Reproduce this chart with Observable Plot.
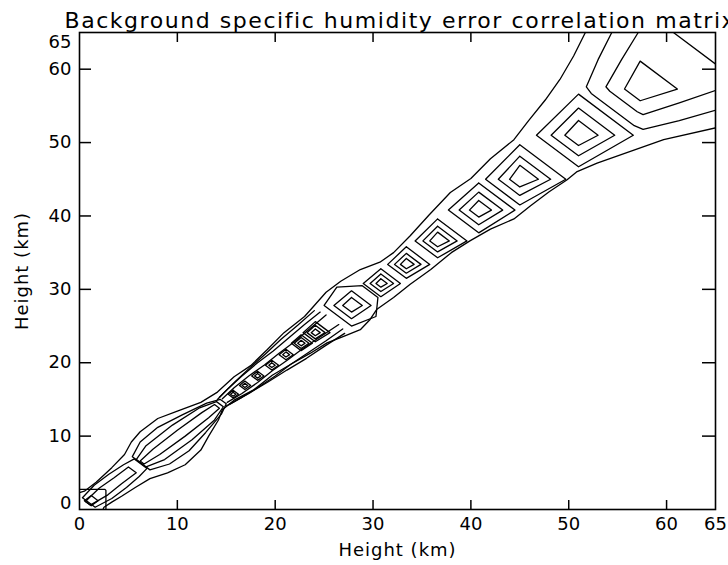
<!DOCTYPE html>
<html>
<head>
<meta charset="utf-8">
<script src="https://cdn.jsdelivr.net/npm/d3@7"></script>
<script src="https://cdn.jsdelivr.net/npm/@observablehq/plot@0.6"></script>
<style>
  body { margin: 0; background: #fff; }
  #chart svg { display: block; }
</style>
</head>
<body>
<div id="chart"></div>
<script>
// ---------- texts and ticks ----------
const titleText = "Background specific humidity error correlation matrix";
const axisTitle = "Height (km)";
const tickValues = [0, 10, 20, 30, 40, 50, 60, 65];
const innerTicks = [10, 20, 30, 40, 50, 60];

// ---------- closed contour rings around the diagonal peaks (km) ----------
// each ring: extent up (along the grid line through the peak) and down
const peakCenters = [51.0, 45.0, 40.8, 36.6, 33.4, 30.8, 27.8, 24.1, 22.65, 21.1, 19.65, 18.2, 16.9, 15.7];
const outerUp     = [5.6, 4.7, 3.7, 3.0, 2.4, 2.0, null, 1.5, 1.15, null, null, null, null, null];
const outerDown   = [4.3, 3.5, 3.1, 2.3, 1.9, 1.8, null, 1.25, 1.0, null, null, null, null, null];
const middleUp    = [3.7, 3.15, 2.45, 2.0, 1.5, 1.3, 2.0, 1.0, 0.8, 0.75, 0.7, 0.65, 0.6, 0.55];
const middleDown  = [2.8, 2.2, 2.0, 1.5, 1.2, 1.1, 1.8, 0.85, 0.7, 0.7, 0.65, 0.6, 0.55, 0.5];
const innerUp     = [2.0, 1.9, 1.3, 1.2, 0.8, 0.65, 1.1, 0.5, 0.4, 0.38, 0.35, 0.32, 0.3, 0.28];
const innerDown   = [1.4, 1.05, 0.95, 0.8, 0.6, 0.5, 0.9, 0.42, 0.35, 0.33, 0.3, 0.3, 0.28, 0.26];

// ---------- open / irregular contour lines, [x, y] in km ----------
const upperEnvelope = [[51.7,65],[50.5,61.8],[49.1,58.6],[47.6,55.8],[45.9,53.0],[44.4,50.4],[42.0,47.8],[40.0,45.1],[37.9,43.2],[35.7,40.1],[33.8,37.3],[32.1,35.0],[30.7,33.7],[28.7,32.7],[26.7,31.1],[25.2,29.6],[24.0,27.8],[23.0,26.3],[20.9,24.1],[19.2,21.8],[17.5,19.6],[15.8,18.1],[14.1,16.0],[12.4,14.6],[10.0,13.4],[8.0,12.4],[6.2,10.6],[5.3,9.2],[4.6,7.5],[3.3,5.7],[1.7,3.7],[0.5,2.5],[0,2.3]];
const lowerEnvelope = [[65,52.0],[59.7,50.4],[56.3,48.8],[52.9,47.2],[50.8,46.0],[49.8,44.9],[48.0,43.3],[46.1,41.4],[44.4,39.6],[42.0,38.2],[39.9,36.6],[38.0,35.0],[35.9,32.7],[33.8,30.7],[32.1,28.9],[30.4,27.3],[29.7,25.9],[28.7,24.5],[27.0,23.6],[25.3,22.7],[23.6,21.3],[21.6,19.8],[19.7,18.3],[17.8,16.3],[15.8,14.9],[14.6,13.6],[14.2,12.2],[13.2,10.0],[12.4,8.1],[10.8,6.1],[9.0,5.0],[7.2,4.2],[5.7,3.0],[4.3,1.8],[3.3,1.0],[2.5,0.3],[2.4,0]];
const topSecond = [[54.4,65],[53.0,61.3],[51.8,57.6],[52.3,56.7],[56.7,52.3],[57.6,51.8],[61.3,53.0],[65,54.4]];
const topThird = [[57.1,65],[55.4,61.3],[53.8,57.6],[54.2,57.0],[57.0,54.2],[57.6,53.8],[61.3,55.4],[65,57.1]];
const topInner = [[57.3,61.1],[61.1,57.3],[57.3,55.7],[55.7,57.3],[57.3,61.1]];
const cornerLine = [[60.7,65],[65,60.7]];
const hexagon28 = [[25.0,27.8],[26.3,30.3],[28.9,30.5],[30.5,28.9],[30.3,26.3],[27.8,25.0],[25.0,27.8]];
const upperBandA = [[24.6,26.9],[23.0,25.2],[21.4,23.4],[19.8,21.6],[18.2,20.0],[16.6,18.2],[15.2,16.5],[14.3,15.3]];
const upperBandB = [[25.2,26.5],[23.6,24.7],[22.0,22.9],[20.4,21.3],[18.9,19.7],[17.3,18.2],[15.8,16.6],[14.6,15.1]];
const upperBandC = [[24.0,27.1],[22.3,25.1],[20.6,23.2],[19.0,21.2],[17.4,19.3],[15.9,17.4],[14.7,15.8],[14.1,15.0]];
const lowerBandA = [[26.9,24.6],[25.2,23.0],[23.4,21.4],[21.6,19.8],[20.0,18.2],[18.2,16.6],[16.5,15.2],[15.3,14.3]];
const lowerBandB = [[26.5,25.2],[24.7,23.6],[22.9,22.0],[21.3,20.4],[19.7,18.9],[18.2,17.3],[16.6,15.8],[15.1,14.6]];
const lowerBandC = [[27.1,24.0],[25.1,22.3],[23.2,20.6],[21.2,19.0],[19.3,17.4],[17.4,15.9],[15.8,14.7],[15.0,14.1]];
const tropoInner = [[6.2,6.6],[7.5,8.2],[10.0,10.8],[12.5,13.2],[13.8,14.3],[14.3,13.8],[13.2,12.5],[10.8,10.0],[8.2,7.5],[6.6,6.2],[6.2,6.6]];
const tropoMiddle = [[5.8,6.8],[6.8,8.7],[9.5,11.5],[12.2,13.8],[14.0,14.7],[14.7,14.0],[13.8,12.2],[11.5,9.5],[8.7,6.8],[6.8,5.8],[5.8,6.8]];
const tropoOuter = [[5.4,7.2],[6.2,9.2],[8.0,11.2],[10.5,12.9],[13.0,14.5],[14.4,15.0],[15.0,14.4],[14.5,13.0],[12.9,10.5],[11.2,8.0],[9.2,6.2],[7.2,5.4],[5.4,7.2]];
const knotOuter = [[0.3,1.6],[1.5,3.3],[3.0,4.8],[4.5,6.1],[5.6,6.9],[6.9,5.6],[6.1,4.5],[4.8,3.0],[3.3,1.5],[1.6,0.3],[0.3,1.6]];
const knotInner = [[0.6,1.1],[2.0,2.9],[3.5,4.3],[5.0,5.8],[5.8,5.0],[4.3,3.5],[2.9,2.0],[1.1,0.6],[0.6,1.1]];
const knotSmall = [[1.2,1.9],[1.9,1.2],[1.2,0.5],[0.5,1.2],[1.2,1.9]];
const cornerBox = [[0,2.75],[2.6,2.75],[2.7,2.6],[2.7,0]];

// ---------- assemble a tidy table for Plot ----------
const paths = [upperEnvelope, lowerEnvelope, topSecond, topThird, topInner, cornerLine, hexagon28,
  upperBandA, upperBandB, upperBandC, lowerBandA, lowerBandB, lowerBandC,
  tropoInner, tropoMiddle, tropoOuter, knotOuter, knotInner, knotSmall, cornerBox];
const ringSets = [[outerUp, outerDown], [middleUp, middleDown], [innerUp, innerDown]];
peakCenters.forEach((c, i) => {
  ringSets.forEach(([ups, downs]) => {
    const u = ups[i], d = downs[i];
    if (u == null || d == null) return;
    paths.push([[c, c + u], [c + u, c], [c, c - d], [c - d, c], [c, c + u]]);
  });
});
const rows = [];
paths.forEach((p, id) => p.forEach(([x, y]) => rows.push({x, y, id})));

const yLabelsMid = tickValues.filter(v => v !== 0 && v !== 65);

// layout (pixels)
const W = 728, H = 565, mL = 79, mR = 13, mT = 32, mB = 56;
const frameW = W - mL - mR, frameH = H - mT - mB;
const domainMax = 65;
// tick lengths in pixels, turned into axis units for the rule marks
const kx = domainMax / frameW, ky = domainMax / frameH;
const tickBottom = 9 * ky, tickTop = 10 * ky, tickLeft = 12 * kx, tickRight = 13 * kx;

const chart = Plot.plot({
  width: W,
  height: H,
  marginLeft: mL,
  marginRight: mR,
  marginTop: mT,
  marginBottom: mB,
  x: {domain: [0, domainMax], axis: null},
  y: {domain: [0, domainMax], axis: null},
  style: {fontFamily: "DejaVu Sans", background: "white", color: "black"},
  marks: [
    Plot.line(rows, {x: "x", y: "y", z: "id", stroke: "black", strokeWidth: 1.3, clip: true}),
    Plot.frame({stroke: "black", strokeWidth: 1.6}),
    // inward ticks on all four sides
    Plot.ruleX(innerTicks, {x: d => d, y1: 0, y2: tickBottom, stroke: "black", strokeWidth: 1.5}),
    Plot.ruleX(innerTicks, {x: d => d, y1: domainMax - tickTop, y2: domainMax, stroke: "black", strokeWidth: 1.5}),
    Plot.ruleY(innerTicks, {y: d => d, x1: 0, x2: tickLeft, stroke: "black", strokeWidth: 1.5}),
    Plot.ruleY(innerTicks, {y: d => d, x1: domainMax - tickRight, x2: domainMax, stroke: "black", strokeWidth: 1.5}),
    // tick labels
    Plot.text(tickValues, {x: d => d, frameAnchor: "bottom", dy: 20, fontSize: 18, text: d => String(d)}),
    Plot.text(yLabelsMid, {y: d => d, frameAnchor: "left", textAnchor: "end", dx: -8, fontSize: 18, text: d => String(d)}),
    Plot.text([65], {y: d => d, frameAnchor: "left", textAnchor: "end", dx: -8, dy: 10, fontSize: 18, text: d => String(d)}),
    Plot.text([0], {y: d => d, frameAnchor: "left", textAnchor: "end", dx: -8, dy: -6, fontSize: 18, text: d => String(d)}),
    // axis titles and chart title
    Plot.text([axisTitle], {frameAnchor: "bottom", dy: 46, fontSize: 18, text: d => d}),
    Plot.text([axisTitle], {frameAnchor: "left", textAnchor: "middle", rotate: -90, dx: -57, fontSize: 18, text: d => d}),
    Plot.text([titleText], {frameAnchor: "top-left", textAnchor: "start", lineAnchor: "bottom", dx: -15, dy: -5, fontSize: 22, text: d => d})
  ]
});
// stroke-font look of the original: slightly wider letter spacing
d3.select(chart).selectAll("text").each(function () {
  const t = this.textContent;
  if (t === titleText) d3.select(this).attr("letter-spacing", "1.55");
  else if (t === axisTitle) d3.select(this).attr("letter-spacing", "1");
});
document.getElementById("chart").appendChild(chart);
</script>
</body>
</html>
